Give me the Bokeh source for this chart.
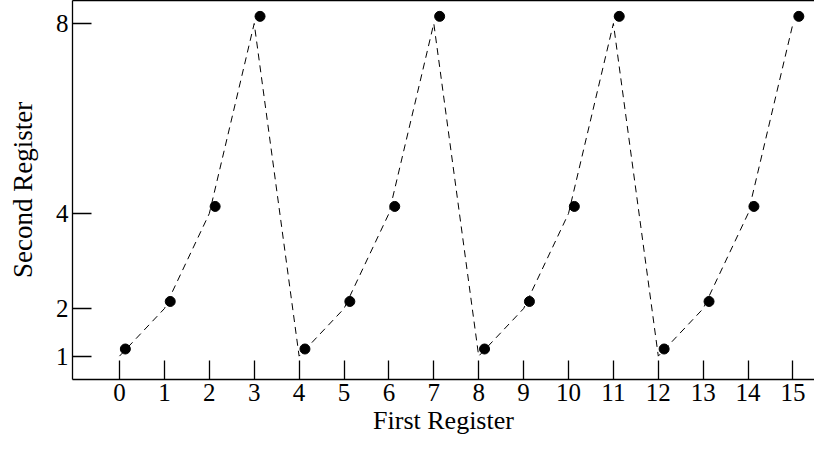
from bokeh.plotting import figure
from bokeh.models import LinearAxis, FixedTicker, Range1d
from bokeh.embed import file_html
from bokeh.resources import INLINE

# data
first_register = [0, 1, 2, 3, 4, 5, 6, 7, 8, 9, 10, 11, 12, 13, 14, 15]
second_register = [1, 2, 4, 8, 1, 2, 4, 8, 1, 2, 4, 8, 1, 2, 4, 8]
x_ticks = [0, 1, 2, 3, 4, 5, 6, 7, 8, 9, 10, 11, 12, 13, 14, 15]
y_ticks = [1, 2, 4, 8]

# style constants
FONT = "Liberation Serif"
DOT_DX = 0.13
DOT_DY = 0.15

p = figure(width=814, height=437,
           x_range=Range1d(-1.047, 15.479), y_range=Range1d(0.508, 8.484),
           output_backend="svg", toolbar_location=None,
           min_border_left=72, min_border_right=0, min_border_top=0, min_border_bottom=53)
p.grid.visible = False
p.outline_line_color = None
p.background_fill_color = "white"
p.border_fill_color = "white"

p.line(first_register, second_register, line_color="black", line_width=1, line_dash="7 5")
p.scatter([x + DOT_DX for x in first_register], [y + DOT_DY for y in second_register],
          size=10, fill_color="black", line_color="black")

for ax in (p.xaxis[0], p.yaxis[0]):
    ax.axis_line_color = "black"
    ax.axis_line_width = 1.3
    ax.major_tick_line_color = "black"
    ax.major_tick_line_width = 1.3
    ax.major_tick_in = 19
    ax.major_tick_out = 0
    ax.minor_tick_line_color = None
    ax.major_label_text_font = FONT
    ax.major_label_text_font_size = "25px"
    ax.major_label_text_color = "black"
    ax.axis_label_text_font = FONT
    ax.axis_label_text_font_style = "normal"
    ax.axis_label_text_color = "black"

p.xaxis[0].axis_label_text_font_size = "26px"
p.yaxis[0].axis_label_text_font_size = "27px"
p.xaxis[0].ticker = FixedTicker(ticks=x_ticks)
p.yaxis[0].ticker = FixedTicker(ticks=y_ticks)
p.xaxis[0].axis_label = "First Register"
p.yaxis[0].axis_label = "Second Register"
p.xaxis[0].major_label_standoff = 4
p.yaxis[0].major_label_standoff = 4
p.xaxis[0].axis_label_standoff = 2
p.yaxis[0].axis_label_standoff = 15

top = LinearAxis(ticker=FixedTicker(ticks=[]), axis_line_color="black", axis_line_width=1.3,
                 major_tick_line_color=None, minor_tick_line_color=None,
                 major_label_text_font_size="0px", major_label_standoff=0)
p.add_layout(top, "above")

open("out.html", "w").write(file_html(p, INLINE))
